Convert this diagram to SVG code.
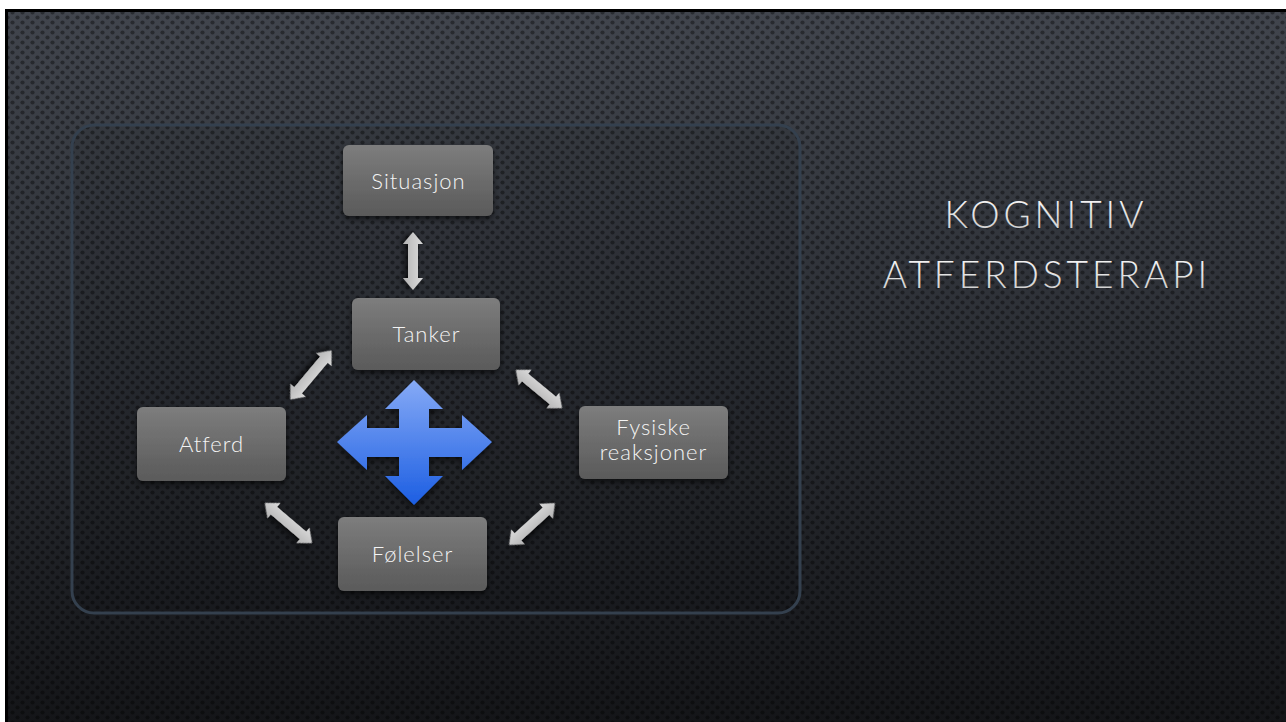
<svg xmlns="http://www.w3.org/2000/svg" width="1286" height="722" viewBox="0 0 1286 722">
<defs>
<linearGradient id="bg" x1="0" y1="0" x2="0" y2="1">
<stop offset="0" stop-color="#41454d"/>
<stop offset="0.5" stop-color="#2a2d33"/>
<stop offset="1" stop-color="#141518"/>
</linearGradient>
<pattern id="dots" width="10" height="10" patternUnits="userSpaceOnUse">
<circle cx="2.5" cy="2.5" r="2.1" fill="#000" fill-opacity="0.38"/>
<circle cx="7.5" cy="7.5" r="2.1" fill="#000" fill-opacity="0.38"/>
</pattern>
<linearGradient id="box" x1="0" y1="0" x2="0" y2="1">
<stop offset="0" stop-color="#7d7d7d"/>
<stop offset="1" stop-color="#5a5a5a"/>
</linearGradient>
<linearGradient id="gray" x1="0" y1="0" x2="0" y2="1">
<stop offset="0" stop-color="#dcdcdc"/>
<stop offset="1" stop-color="#b4b4b4"/>
</linearGradient>
<linearGradient id="blue" x1="0" y1="0" x2="0" y2="1">
<stop offset="0" stop-color="#86aaf6"/>
<stop offset="1" stop-color="#1c5ee2"/>
</linearGradient>
<linearGradient id="title" x1="0" y1="0" x2="0" y2="1">
<stop offset="0" stop-color="#ffffff"/>
<stop offset="1" stop-color="#c8c8c8"/>
</linearGradient>
<filter id="shadow" x="-20%" y="-20%" width="140%" height="150%">
<feGaussianBlur in="SourceAlpha" stdDeviation="3"/>
<feOffset dx="0" dy="3" result="b"/>
<feComponentTransfer><feFuncA type="linear" slope="0.6"/></feComponentTransfer>
<feMerge><feMergeNode/><feMergeNode in="SourceGraphic"/></feMerge>
</filter>
<filter id="soft" x="-30%" y="-30%" width="160%" height="170%">
<feGaussianBlur in="SourceAlpha" stdDeviation="3"/>
<feOffset dx="0" dy="3"/>
<feComponentTransfer><feFuncA type="linear" slope="0.7"/></feComponentTransfer>
<feMerge><feMergeNode/><feMergeNode in="SourceGraphic"/></feMerge>
</filter>
</defs>
<style>
.node rect{fill:url(#box);filter:url(#shadow)}
.node text{font-family:"Lato","Liberation Sans",sans-serif;font-weight:300;font-size:22px;letter-spacing:1px;fill:#f4f4f4;text-anchor:middle}
.dbl{fill:url(#gray);filter:url(#soft)}
.title{font-family:"Lato","Liberation Sans",sans-serif;font-weight:300;font-size:37px;letter-spacing:4px;fill:url(#title);text-anchor:middle}
</style>
<rect x="0" y="0" width="1286" height="722" fill="#ffffff"/>
<rect x="6.5" y="10.5" width="1281" height="714" fill="url(#bg)" stroke="#000" stroke-width="3"/>
<rect x="8" y="12" width="1278" height="710" fill="url(#dots)"/>
<rect x="72" y="125" width="728" height="488" rx="22" fill="#000" fill-opacity="0.08" stroke="#34404e" stroke-width="3"/>
<g id="connectors">
<path class="dbl" transform="translate(413,261) rotate(90)" d="M-29,0 L-17,-10 L-17,-5 L17,-5 L17,-10 L29,0 L17,10 L17,5 L-17,5 L-17,10 Z"/>
<path class="dbl" transform="translate(311,375) rotate(130)" d="M-32,0 L-20,-10 L-20,-5 L20,-5 L20,-10 L32,0 L20,10 L20,5 L-20,5 L-20,10 Z"/>
<path class="dbl" transform="translate(288.5,523) rotate(40.4)" d="M-31,0 L-19,-10 L-19,-5 L19,-5 L19,-10 L31,0 L19,10 L19,5 L-19,5 L-19,10 Z"/>
<path class="dbl" transform="translate(539,389) rotate(39.6)" d="M-30,0 L-18,-10 L-18,-5 L18,-5 L18,-10 L30,0 L18,10 L18,5 L-18,5 L-18,10 Z"/>
<path class="dbl" transform="translate(532,524) rotate(-42.4)" d="M-31,0 L-19,-10 L-19,-5 L19,-5 L19,-10 L31,0 L19,10 L19,5 L-19,5 L-19,10 Z"/>
</g>
<g id="cross">
<polygon fill="url(#blue)" filter="url(#shadow)" points="414,380 443,409 429,409 429,428 462,428 462,415 492,442 462,470 462,457 429,457 429,476 443,476 414,505 385,476 399,476 399,457 367,457 367,470 337,442 367,415 367,428 399,428 399,409 385,409"/>
</g>
<g id="situasjon" class="node">
<rect x="343" y="145" width="150" height="71" rx="6"/>
<text x="418.5" y="189">Situasjon</text>
</g>
<g id="tanker" class="node">
<rect x="352" y="298" width="148" height="72" rx="6"/>
<text x="426.5" y="342">Tanker</text>
</g>
<g id="atferd" class="node">
<rect x="137" y="407" width="149" height="74" rx="6"/>
<text x="211.5" y="452">Atferd</text>
</g>
<g id="folelser" class="node">
<rect x="338" y="517" width="149" height="74" rx="6"/>
<text x="412.5" y="562">Følelser</text>
</g>
<g id="fysiske" class="node">
<rect x="579" y="406" width="149" height="73" rx="6"/>
<text x="653.5" y="435">Fysiske</text>
<text x="653.5" y="460">reaksjoner</text>
</g>
<g id="heading">
<text class="title" x="1046" y="228">KOGNITIV</text>
<text class="title" x="1047" y="288">ATFERDSTERAPI</text>
</g>
</svg>
